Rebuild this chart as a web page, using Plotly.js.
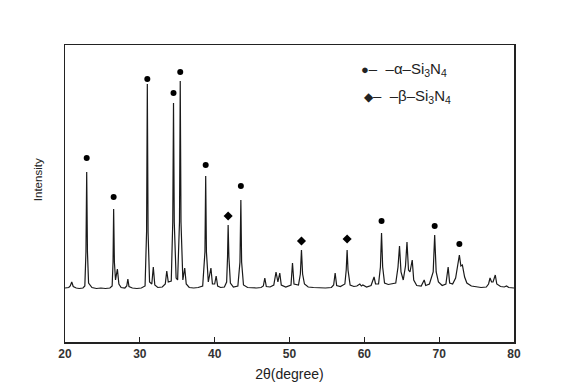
<!DOCTYPE html>
<html><head><meta charset="utf-8">
<script src="https://cdn.plot.ly/plotly-3.0.1.min.js"></script>
<style>html,body{margin:0;padding:0;background:#fff}#chart{width:574px;height:390px}</style>
</head><body><div id="chart"></div>
<script>
// XRD pattern: 2θ (degree) and intensity (a.u.)
var twoTheta = [20.0,20.5,20.7,20.9,21.1,21.5,21.9,22.4,22.65,22.8,22.9,23.0,23.15,23.3,23.6,24.2,24.8,25.4,26.0,26.3,26.42,26.5,26.6,26.75,27.0,27.2,27.5,28.0,28.25,28.4,28.55,29.0,29.6,30.2,30.7,30.9,31.0,31.1,31.3,31.6,31.8,32.0,32.4,33.0,33.4,33.6,33.8,34.2,34.4,34.5,34.6,34.85,35.05,35.3,35.4,35.5,35.75,36.0,36.2,36.6,37.2,37.8,38.4,38.7,38.8,38.9,39.15,39.5,39.7,40.0,40.2,40.4,40.8,41.3,41.6,41.72,41.8,41.9,42.1,42.5,43.1,43.38,43.5,43.6,43.85,44.4,45.0,45.6,46.2,46.5,46.7,46.9,47.4,47.9,48.2,48.45,48.7,48.9,49.5,50.2,50.4,50.6,51.2,51.45,51.6,51.75,52.0,52.5,53.2,54.0,54.8,55.6,55.9,56.1,56.3,56.8,57.4,57.58,57.7,57.82,58.1,58.6,59.0,59.4,59.6,59.8,60.3,60.9,61.3,61.5,61.9,62.15,62.3,62.45,62.7,63.2,63.8,64.2,64.5,64.7,64.9,65.2,65.5,65.7,65.9,66.1,66.4,66.6,67.0,67.6,68.0,68.2,68.7,69.2,69.4,69.6,69.9,70.4,70.9,71.2,71.4,71.8,72.2,72.5,72.7,72.9,73.1,73.4,73.7,74.3,75.0,75.6,76.3,76.6,76.8,77.0,77.2,77.5,77.7,78.2,78.7,79.0,79.3,80.0];
var intensity = [540,545,560,600,555,540,535,540,560,900,1700,900,590,570,545,535,540,535,540,560,800,1330,800,620,730,580,545,540,560,630,555,540,535,540,560,1100,2580,1100,600,580,750,570,545,550,580,710,600,610,1200,2390,1200,640,620,1200,2610,1200,620,740,580,545,540,545,560,900,1660,900,600,740,580,580,660,560,545,550,600,850,1170,850,590,550,560,800,1420,800,570,545,540,540,545,560,640,555,550,570,700,600,690,570,550,570,790,580,570,680,920,680,580,550,545,540,540,545,570,690,565,555,580,720,920,720,570,555,560,580,560,570,550,565,650,580,580,750,1090,750,590,575,580,590,750,960,700,620,760,1000,720,700,820,620,565,560,620,565,580,700,1070,700,600,565,580,750,590,580,640,780,870,760,770,650,590,560,550,545,550,580,640,600,600,670,580,555,550,560,545,540];

// Phase markers
var alphaX = [22.9,26.5,31.0,34.5,35.4,38.8,43.5,62.3,69.4,72.7];
var alphaY = [1840,1450,2630,2490,2700,1770,1560,1210,1160,980];
var betaX = [41.8,51.6,57.7];
var betaY = [1260,1010,1030];

var xTicks = [20,30,40,50,60,70,80];

var traces = [
  {x: twoTheta, y: intensity, type: 'scatter', mode: 'lines',
   line: {color: '#1a1a1a', width: 1.2}, showlegend: false, hoverinfo: 'skip'},
  {x: alphaX, y: alphaY, type: 'scatter', mode: 'markers',
   marker: {symbol: 'circle', size: 6, color: '#000'}, showlegend: false},
  {x: betaX, y: betaY, type: 'scatter', mode: 'markers',
   marker: {symbol: 'diamond', size: 7, color: '#000'}, showlegend: false}
];

var layout = {
  width: 574, height: 390,
  margin: {l: 65, r: 60, t: 45, b: 48},
  paper_bgcolor: '#fff', plot_bgcolor: '#fff',
  font: {family: 'Liberation Sans, Arial, sans-serif', color: '#222'},
  xaxis: {
    range: [20, 80], tickvals: xTicks, ticktext: xTicks.map(String),
    ticks: 'inside', ticklen: 5, tickwidth: 1.3, tickcolor: '#222',
    showline: true, linecolor: '#222', linewidth: 1.5, mirror: true,
    showgrid: false, zeroline: false,
    tickfont: {size: 12, color: '#333', family: 'Liberation Sans, Arial, sans-serif', weight: 'bold'},
    title: {text: '2θ(degree)', font: {size: 14, color: '#222'}, standoff: 9}
  },
  yaxis: {
    range: [0, 2970], showticklabels: false, ticks: '',
    showline: true, linecolor: '#222', linewidth: 1.5, mirror: true,
    showgrid: false, zeroline: false
  },
  annotations: [
    {xref: 'paper', yref: 'paper', x: -0.06, y: 0.545, xanchor: 'center', yanchor: 'middle',
     textangle: -90, showarrow: false, text: 'Intensity', font: {size: 11.5, color: '#222'}},
    {xref: 'paper', yref: 'paper', x: 0.655, y: 0.916, xanchor: 'left', yanchor: 'middle',
     showarrow: false, text: '<span style="font-size:13px">●</span>–\u00a0\u00a0–α–Si<sub>3</sub>N<sub>4</sub>', font: {size: 15, color: '#222'}},
    {xref: 'paper', yref: 'paper', x: 0.661, y: 0.827, xanchor: 'left', yanchor: 'middle',
     showarrow: false, text: '<span style="font-size:12px">◆</span>–\u00a0\u00a0–β–Si<sub>3</sub>N<sub>4</sub>', font: {size: 15, color: '#222'}}
  ]
};

Plotly.newPlot('chart', traces, layout, {displayModeBar: false, staticPlot: true});
</script>
</body></html>
